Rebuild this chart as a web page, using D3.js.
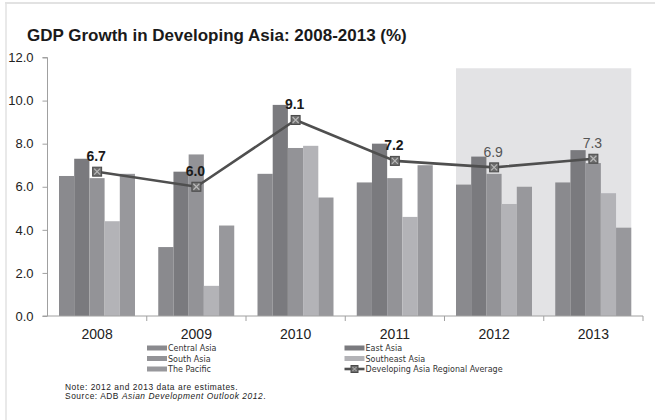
<!DOCTYPE html>
<html><head><meta charset="utf-8">
<script src="https://cdn.jsdelivr.net/npm/d3@7"></script>
<style>body{margin:0;background:#fff}svg{display:block}</style>
</head><body>
<script>
const years = ["2008","2009","2010","2011","2012","2013"];
const seriesNames = ["Central Asia","East Asia","South Asia","Southeast Asia","The Pacific"];
const centralAsia   = [6.5, 3.2, 6.6, 6.2, 6.1, 6.2];
const eastAsia      = [7.3, 6.7, 9.8, 8.0, 7.4, 7.7];
const southAsia     = [6.4, 7.5, 7.8, 6.4, 6.6, 7.1];
const southeastAsia = [4.4, 1.4, 7.9, 4.6, 5.2, 5.7];
const thePacific    = [6.6, 4.2, 5.5, 7.0, 6.0, 4.1];
const regionalAvg   = [6.7, 6.0, 9.1, 7.2, 6.9, 7.3];
const estimateYears = ["2012","2013"];
const yTicks = [0, 2, 4, 6, 8, 10, 12];
const lineName = "Developing Asia Regional Average";

const seriesValues = [centralAsia, eastAsia, southAsia, southeastAsia, thePacific];
const colors = ["#8a8a8e","#7a7a7e","#939397","#b3b3b7","#98989c"];

const W = 658, H = 420;
const svg = d3.select("body").append("svg").attr("width", W).attr("height", H)
  .style("font-family","'Liberation Sans', Arial, sans-serif");

// frame
svg.append("line").attr("x1",5).attr("x2",655).attr("y1",3).attr("y2",3).attr("stroke","#e2e2e2").attr("stroke-width",2);
svg.append("line").attr("x1",6).attr("x2",6).attr("y1",3).attr("y2",420).attr("stroke","#e2e2e2").attr("stroke-width",1.5);

// title
svg.append("text").attr("x",27).attr("y",41).attr("font-size",17).attr("font-weight","bold")
  .attr("fill","#1a1a1a").text("GDP Growth in Developing Asia: 2008-2013 (%)");

const x0 = d3.scaleBand().domain(years).range([47.5, 643]).padding(0);
const x1 = d3.scaleBand().domain(seriesNames).range([11.5, 87.5]).padding(0);
const y = d3.scaleLinear().domain([0, 12]).range([316, 57.5]);

// shaded estimate region
const sx0 = x0(estimateYears[0]) + x1(seriesNames[0]);
const sx1 = x0(estimateYears[estimateYears.length-1]) + x1(seriesNames[seriesNames.length-1]) + x1.bandwidth();
svg.append("rect").attr("x", sx0).attr("y", y(11.5)).attr("width", sx1 - sx0).attr("height", y(0) - y(11.5))
  .attr("fill","#e3e3e5");

// bars
const g = svg.append("g");
years.forEach((yr, i) => {
  seriesNames.forEach((s, j) => {
    const v = seriesValues[j][i];
    g.append("rect").attr("x", x0(yr) + x1(s)).attr("y", y(v))
      .attr("width", x1.bandwidth()).attr("height", y(0) - y(v)).attr("fill", colors[j]);
  });
});

// y axis
const yAxis = svg.append("g").attr("transform","translate(47.5,0)")
  .call(d3.axisLeft(y).tickValues(yTicks).tickFormat(d3.format(".1f")).tickSize(5).tickPadding(9));
yAxis.select(".domain").attr("stroke","#a0a0a0").attr("d","M-5,57.5H0V316");
yAxis.selectAll(".tick line").attr("stroke","#a0a0a0");
yAxis.selectAll(".tick text").attr("font-size",13).attr("fill","#222").attr("font-family","'Liberation Sans', Arial, sans-serif");

// x axis
const xAxis = svg.append("g").attr("transform","translate(0,316)")
  .call(d3.axisBottom(x0).tickSize(0).tickPadding(13));
xAxis.select(".domain").attr("stroke","#a0a0a0").attr("d","M42.5,0H643");
xAxis.selectAll(".tick text").attr("font-size",14).attr("fill","#222").attr("font-family","'Liberation Sans', Arial, sans-serif");
const bounds = years.map(yr => x0(yr)).concat([x0(years[years.length-1]) + x0.bandwidth()]);
svg.append("g").selectAll("line").data(bounds.slice(1)).join("line")
  .attr("x1", d => d).attr("x2", d => d).attr("y1", 316).attr("y2", 321).attr("stroke","#a0a0a0");

// line
const cx = yr => x0(yr) + x0.bandwidth()/2;
const line = d3.line().x((d,i) => cx(years[i])).y(d => y(d));
svg.append("path").datum(regionalAvg).attr("d", line).attr("fill","none")
  .attr("stroke","#4f4f4f").attr("stroke-width",2.6);

function marker(sel, px, py) {
  const m = sel.append("g").attr("transform",`translate(${px},${py})`);
  m.append("rect").attr("x",-4.5).attr("y",-4.5).attr("width",9).attr("height",9)
    .attr("fill","#6e6e6e").attr("stroke","#4a4a4a").attr("stroke-width",1);
  m.append("path").attr("d","M-3,-3L3,3M3,-3L-3,3").attr("stroke","#b8b8b8").attr("stroke-width",1.2);
}
regionalAvg.forEach((v, i) => {
  marker(svg, cx(years[i]), y(v));
  const est = estimateYears.includes(years[i]);
  svg.append("text").attr("x", cx(years[i]) - 1).attr("y", y(v) - 10.5)
    .attr("text-anchor","middle").attr("font-size",14)
    .attr("font-weight", est ? "normal" : "bold")
    .attr("fill", est ? "#555" : "#1a1a1a").text(v.toFixed(1));
});

// legend
const legItems = [
  {name: seriesNames[0], c: colors[0], x: 147, y: 348},
  {name: seriesNames[2], c: colors[2], x: 147, y: 358.5},
  {name: seriesNames[4], c: colors[4], x: 147, y: 369},
  {name: seriesNames[1], c: colors[1], x: 344.5, y: 348},
  {name: seriesNames[3], c: colors[3], x: 344.5, y: 358.5}
];
const leg = svg.append("g").attr("font-family","'DejaVu Sans', sans-serif");
legItems.forEach(d => {
  leg.append("rect").attr("x", d.x).attr("y", d.y - 2.5).attr("width", 20).attr("height", 5).attr("fill", d.c);
  leg.append("text").attr("x", d.x + 21).attr("y", d.y + 3).attr("font-size",8).attr("fill","#333").text(d.name);
});
leg.append("line").attr("x1",344.5).attr("x2",364.5).attr("y1",369).attr("y2",369).attr("stroke","#4f4f4f").attr("stroke-width",2.6);
{
  const m = leg.append("g").attr("transform","translate(354.5,369)");
  m.append("rect").attr("x",-3.5).attr("y",-3.5).attr("width",7).attr("height",7).attr("fill","#6e6e6e").attr("stroke","#4a4a4a");
  m.append("path").attr("d","M-2,-2L2,2M2,-2L-2,2").attr("stroke","#b8b8b8");
}
leg.append("text").attr("x",365.5).attr("y",372).attr("font-size",8).attr("fill","#333").text(lineName);

// notes
svg.append("text").attr("x",65).attr("y",389.5).attr("font-size",8.4).attr("letter-spacing",0.55).attr("fill","#222")
  .text("Note: 2012 and 2013 data are estimates.");
const src = svg.append("text").attr("x",65).attr("y",398.5).attr("font-size",8.4).attr("letter-spacing",0.55).attr("fill","#222");
src.append("tspan").text("Source: ADB ");
src.append("tspan").attr("font-style","italic").text("Asian Development Outlook 2012");
src.append("tspan").text(".");
</script>
</body></html>
